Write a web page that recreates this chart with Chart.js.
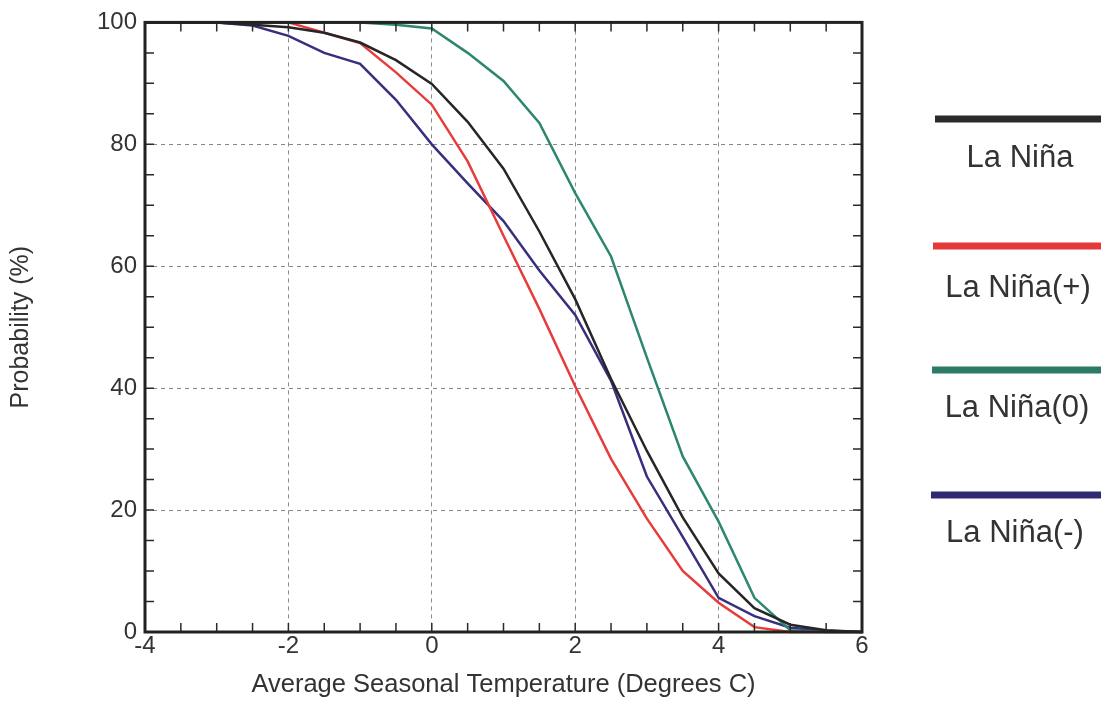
<!DOCTYPE html>
<html>
<head>
<meta charset="utf-8">
<script src="https://cdn.jsdelivr.net/npm/chart.js@4/dist/chart.umd.min.js"></script>
<style>
  html, body { margin: 0; padding: 0; background: #ffffff; }
  #wrap { width: 1101px; height: 704px; }
</style>
</head>
<body>
<div id="wrap"><canvas id="c" width="1101" height="704"></canvas></div>
<script>
// ---- data ----
const temps = [-4, -3.5, -3, -2.5, -2, -1.5, -1, -0.5, 0, 0.5, 1, 1.5, 2, 2.5, 3, 3.5, 4, 4.5, 5, 5.5, 6];
const laNina      = [100, 100, 100, 99.6, 99.2, 98.3, 96.7, 93.8, 89.9, 83.7, 76.0, 65.7, 54.6, 41.5, 29.7, 18.8, 9.6, 3.9, 1.2, 0.3, 0];
const laNinaPlus  = [100, 100, 100, 100, 100, 98.3, 96.6, 91.8, 86.5, 77.2, 65.0, 53.0, 40.3, 28.4, 18.6, 10.0, 4.8, 0.8, 0, 0, 0];
const laNinaZero  = [100, 100, 100, 100, 100, 100, 100, 99.6, 99.0, 95.0, 90.4, 83.5, 72.0, 61.6, 45.0, 28.8, 18.1, 5.6, 0.3, 0, 0];
const laNinaMinus = [100, 100, 100, 99.5, 97.8, 95.0, 93.2, 87.3, 80.0, 73.6, 67.4, 59.3, 52.0, 41.2, 25.5, 15.6, 5.6, 2.6, 0.7, 0.2, 0];
const seriesNames = ['La Niña', 'La Niña(+)', 'La Niña(0)', 'La Niña(-)'];
const xTicks = [-4, -2, 0, 2, 4, 6];
const yTicks = [0, 20, 40, 60, 80, 100];

const FONT = '"Liberation Sans", Arial, Helvetica, sans-serif';
const TEXT = '#333333';

function pts(vals) { return temps.map((t, i) => ({ x: t, y: vals[i] })); }

const colors = ['#262626', '#e63c3c', '#2d8670', '#37307e'];
const legendColors = ['#2a2a2a', '#e53939', '#2c7b68', '#302a70'];

const datasets = [laNina, laNinaPlus, laNinaZero, laNinaMinus].map((v, i) => ({
  label: seriesNames[i],
  data: pts(v),
  borderColor: colors[i],
  borderWidth: 2.5,
  pointRadius: 0,
  tension: 0,
  fill: false,
  clip: 4
}));

// frame, inward minor ticks, and the side legend
const decor = {
  id: 'decor',
  afterDatasetsDraw(chart) {
    const { ctx, chartArea: a, scales: { x, y } } = chart;
    ctx.save();
    ctx.strokeStyle = '#2a2a2a';
    ctx.lineWidth = 1.5;
    const L = 9;
    ctx.beginPath();
    for (let v = -3.5; v < 6; v += 0.5) {
      const px = x.getPixelForValue(v);
      ctx.moveTo(px, a.bottom); ctx.lineTo(px, a.bottom - L);
      ctx.moveTo(px, a.top); ctx.lineTo(px, a.top + L);
    }
    for (let v = 5; v < 100; v += 5) {
      const py = y.getPixelForValue(v);
      ctx.moveTo(a.left, py); ctx.lineTo(a.left + L, py);
      ctx.moveTo(a.right, py); ctx.lineTo(a.right - L, py);
    }
    ctx.stroke();
    ctx.lineWidth = 3;
    ctx.strokeStyle = '#222222';
    ctx.strokeRect(a.left, a.top, a.right - a.left, a.bottom - a.top);

    // legend
    const lineY = [119, 246, 370, 495];
    const lineX0 = [935, 933, 932, 931];
    const textY = [158, 288, 408, 533];
    const textX = [1020, 1018, 1017, 1015];
    ctx.font = '31px ' + FONT;
    ctx.textAlign = 'center';
    ctx.textBaseline = 'middle';
    chart.data.datasets.forEach((ds, i) => {
      ctx.strokeStyle = legendColors[i];
      ctx.lineWidth = 7;
      ctx.beginPath();
      ctx.moveTo(lineX0[i], lineY[i]);
      ctx.lineTo(1101, lineY[i]);
      ctx.stroke();
      ctx.fillStyle = TEXT;
      ctx.fillText(ds.label, textX[i], textY[i]);
    });
    ctx.restore();
  }
};

new Chart(document.getElementById('c'), {
  type: 'line',
  data: { datasets },
  plugins: [decor],
  options: {
    responsive: false,
    animation: false,
    layout: { padding: { left: 0, top: 20, right: 239, bottom: 0 } },
    plugins: { legend: { display: false }, tooltip: { enabled: false } },
    scales: {
      x: {
        type: 'linear',
        min: -4, max: 6,
        afterFit(s) { s.height = 72; },
        afterBuildTicks(s) { s.ticks = xTicks.map(v => ({ value: v })); },
        ticks: { color: TEXT, font: { family: FONT, size: 24 }, padding: 0, maxRotation: 0 },
        grid: { color: '#8a8a8a', lineWidth: 1, drawTicks: false },
        border: { display: false, dash: [4, 4] },
        title: { display: true, text: 'Average Seasonal Temperature (Degrees C)', color: TEXT,
                 font: { family: FONT, size: 25.5 }, padding: { top: 0, bottom: 4 } }
      },
      y: {
        min: 0, max: 100,
        afterFit(s) { s.width = 145; },
        afterBuildTicks(s) { s.ticks = yTicks.map(v => ({ value: v })); },
        ticks: { color: TEXT, font: { family: FONT, size: 24 }, padding: 8 },
        grid: { color: '#8a8a8a', lineWidth: 1, drawTicks: false },
        border: { display: false, dash: [4, 4] },
        title: { display: true, text: 'Probability (%)', color: TEXT,
                 font: { family: FONT, size: 25 }, padding: { top: 6, bottom: 0 } }
      }
    }
  }
});
</script>
</body>
</html>
